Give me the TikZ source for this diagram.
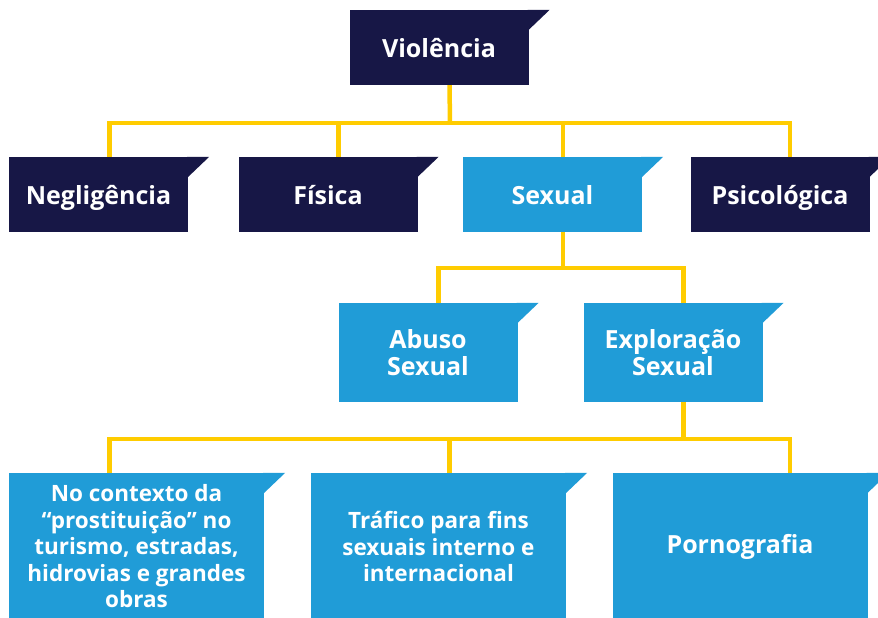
\documentclass[tikz,border=0pt]{standalone}
\usepackage{fontspec}
\setmainfont{Open Sans}
\definecolor{navy}{RGB}{23,23,70}
\definecolor{skyblue}{RGB}{32,156,215}
\definecolor{gold}{RGB}{255,204,0}

\begin{document}
\begin{tikzpicture}[x=1pt, y=-1pt,
    box/.style={rectangle, inner sep=0pt, text=white, align=center,
        font=\bfseries\fontsize{25}{27}\selectfont,
        minimum width=179pt, minimum height=75pt},
    oneline/.style={text height=20pt, text depth=0pt},
    dark/.style={box, oneline, fill=navy},
    light/.style={box, fill=skyblue},
    wide/.style={light, minimum width=255pt, minimum height=147pt},
    small/.style={font=\bfseries\fontsize{22.5}{26.5}\selectfont},
    wire/.style={gold, line width=4.5pt}]
    \clip (0,0) rectangle (878,618);

    \node[dark] (viol) at (439,47.5) {Violência};

    \node[dark] (negl) at (98.5,194.5) {Negligência};
    \node[dark] (fis) at (328,194.5) {Física};
    \node[light, oneline] (sex) at (552.5,194.5) {Sexual};
    \node[dark] (psi) at (780,194.5) {Psicológica};

    \node[light, minimum height=99pt] (abuso) at (428,352.5) {Abuso\\Sexual};
    \node[light, minimum height=99pt] (expl) at (673,352.5) {Exploração\\Sexual};

    \node[wide, small] (ctx) at (136.5,546.5) {No contexto da\\“prostituição” no\\turismo, estradas,\\hidrovias e grandes\\obras};
    \node[wide, small] (traf) at (438.5,546.5) {Tráfico para fins\\sexuais interno e\\internacional};
    \node[wide] (porn) at (740,546.5) {Pornografia};

    % folded corners
    \foreach \n/\c in {viol/navy, negl/navy, fis/navy, sex/skyblue, psi/navy,
        abuso/skyblue, expl/skyblue, ctx/skyblue, traf/skyblue, porn/skyblue}
        \fill[\c] ([xshift=-1pt]\n.north east) -- ++(22,0)
            -- ([xshift=-1pt,yshift=-21pt]\n.north east) -- cycle;

    % connectors
    \coordinate (bus1) at (450,123);
    \draw[wire] ([xshift=10.5pt]viol.south) -- (bus1);
    \draw[wire] ([xshift=11pt]negl.north) |- (bus1) -| ([xshift=10pt]psi.north);
    \draw[wire] ([xshift=10.5pt]fis.north) -- ([xshift=10.5pt]fis.north |- bus1);
    \draw[wire] ([xshift=10.5pt]sex.north) -- ([xshift=10.5pt]sex.north |- bus1);

    \coordinate (bus2) at (563,268);
    \draw[wire] ([xshift=10.5pt]sex.south) -- (bus2);
    \draw[wire] ([xshift=10.5pt]abuso.north) |- (bus2) -| ([xshift=10.5pt]expl.north);

    \coordinate (bus3) at (683.5,439);
    \draw[wire] ([xshift=10.5pt]expl.south) -- (bus3);
    \draw[wire] ([xshift=-27pt]ctx.north) |- (bus3) -| ([xshift=50pt]porn.north);
    \draw[wire] ([xshift=11pt]traf.north) -- ([xshift=11pt]traf.north |- bus3);
\end{tikzpicture}
\end{document}
